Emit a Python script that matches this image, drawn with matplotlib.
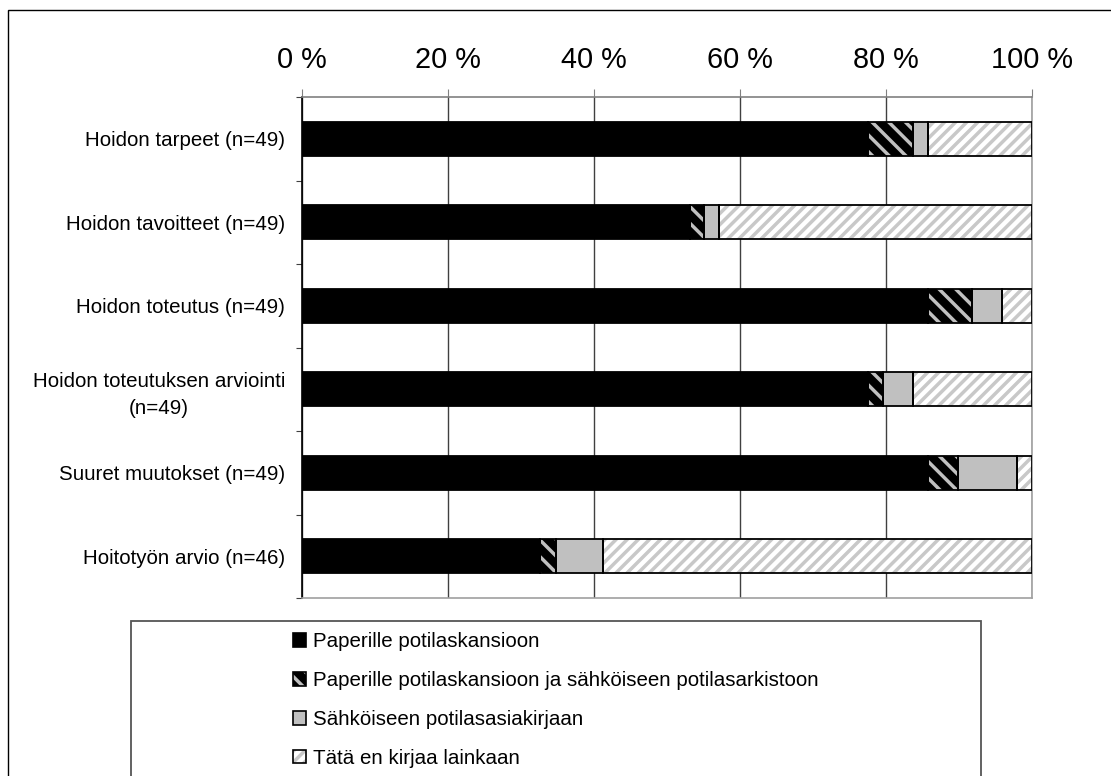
import numpy as np
import matplotlib
matplotlib.use("Agg")
import matplotlib.pyplot as plt
from matplotlib.patches import Patch, Rectangle

plt.rcParams['font.family'] = ['Liberation Sans', 'DejaVu Sans']
plt.rcParams['hatch.linewidth'] = 2.5

# data (percent of respondents)
categories = ['Hoidon tarpeet (n=49)', 'Hoidon tavoitteet (n=49)', 'Hoidon toteutus (n=49)',
              'Hoidon toteutuksen arviointi\n(n=49)', 'Suuret muutokset (n=49)', 'Hoitotyön arvio (n=46)']
paper_only = [77.6, 53.1, 85.7, 77.6, 85.7, 32.6]
paper_and_archive = [6.1, 2.0, 6.1, 2.0, 4.1, 2.2]
electronic = [2.0, 2.0, 4.1, 4.1, 8.2, 6.5]
not_at_all = [14.3, 42.9, 4.1, 16.3, 2.0, 58.7]
series_labels = ['Paperille potilaskansioon',
                 'Paperille potilaskansioon ja sähköiseen potilasarkistoon',
                 'Sähköiseen potilasasiakirjaan',
                 'Tätä en kirjaa lainkaan']
xticks = [0, 20, 40, 60, 80, 100]

# styles for each series: (face, hatch colour, hatch)
styles = [('black', 'black', ''),
          ('black', '#c0c0c0', '\\\\'),
          ('#c0c0c0', '#c0c0c0', ''),
          ('white', '#c8c8c8', '///')]

fig = plt.figure(figsize=(11.11, 7.76), dpi=100)
ax = fig.add_axes([302 / 1111, 1 - 598 / 776, 730 / 1111, 501 / 776])

y = np.arange(len(categories))
left = np.zeros(len(categories))
all_series = [paper_only, paper_and_archive, electronic, not_at_all]
for vals, (face, hcol, hatch) in zip(all_series, styles):
    vals = np.array(vals)
    # filled + hatched part, then a black outline on top
    ax.barh(y, vals, left=left, height=0.41, color=face, edgecolor=hcol,
            hatch=hatch, linewidth=0, zorder=3)
    ax.barh(y, vals, left=left, height=0.41, fill=False, edgecolor='black',
            linewidth=1.3, zorder=4)
    left = left + vals

ax.set_xlim(0, 100)
ax.set_ylim(len(categories) - 0.5, -0.5)

ax.set_xticks(xticks)
ax.set_xticklabels([f'{t} %' for t in xticks])
ax.xaxis.tick_top()
ax.tick_params(axis='x', which='major', direction='out', length=5.8, color='#808080',
               labelsize=20.8, pad=11)
ax.grid(axis='x', color='#404040', linewidth=1.0, zorder=0)

ax.set_yticks(np.arange(len(categories) + 1) - 0.5)
ax.set_yticklabels([])
ax.set_yticks(y, minor=True)
ax.set_yticklabels(categories, minor=True, multialignment='center', linespacing=1.55)
ax.tick_params(axis='y', which='major', direction='out', length=4.5, color='#404040')
ax.tick_params(axis='y', which='minor', length=0, labelsize=14.8, pad=12)

ax.spines['left'].set_color('black')
ax.spines['top'].set_color('#808080')
ax.spines['right'].set_color('#a0a0a0')
ax.spines['bottom'].set_color('#a0a0a0')
for s in ax.spines.values():
    s.set_linewidth(1.2)

# outer chart border (cropped at right and bottom)
fig.patches.append(Rectangle((8 / 1111, -0.1), 1.2, 1 - 10 / 776 + 0.1,
                             transform=fig.transFigure, fill=False,
                             edgecolor='black', linewidth=1.0))
# legend frame (cropped at bottom)
fig.patches.append(Rectangle((131 / 1111, -0.1), 850 / 1111, 1 - 621 / 776 + 0.1,
                             transform=fig.transFigure, fill=False,
                             edgecolor='#555555', linewidth=1.3))

handles = [(Patch(facecolor=f, edgecolor=h, hatch=hat, linewidth=0),
            Patch(fill=False, edgecolor='black', linewidth=1.2))
           for f, h, hat in styles]
fig.legend(handles, series_labels, loc='upper left',
           bbox_to_anchor=(293 / 1111, 1 - 632 / 776), frameon=False,
           fontsize=14.8, handlelength=0.65, handleheight=0.65, handletextpad=0.3,
           labelspacing=0.97, borderpad=0, borderaxespad=0)

fig.savefig('out.png', dpi=100)
